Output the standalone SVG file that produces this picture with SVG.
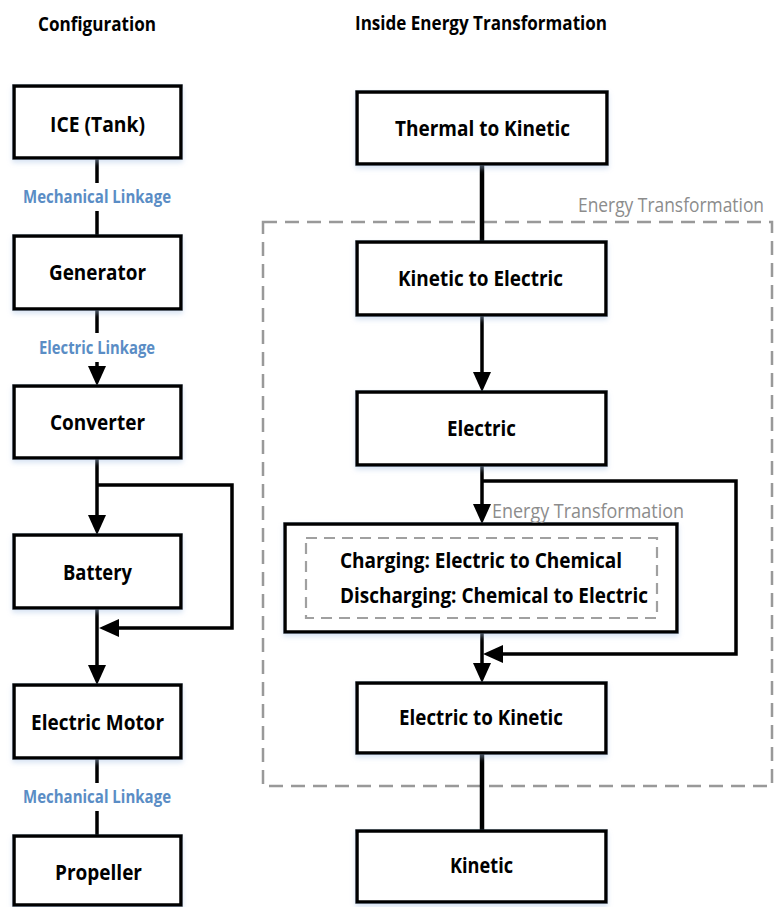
<svg xmlns="http://www.w3.org/2000/svg" width="774" height="907" viewBox="0 0 774 907">
  <style>
    .box { fill: #ffffff; stroke: #000000; stroke-width: 3.5; filter: url(#soft); }
    .lbl { font-family: "Open Sans", "Liberation Sans", sans-serif; font-weight: bold; font-size: 22px; fill: #000000; }
    .title { font-family: "Open Sans", "Liberation Sans", sans-serif; font-weight: bold; font-size: 19px; fill: #000000; }
    .link { font-family: "Open Sans", "Liberation Sans", sans-serif; font-weight: bold; font-size: 17px; fill: #5a8dc5; }
    .grey { font-family: "Open Sans", "Liberation Sans", sans-serif; font-size: 20px; fill: #8c8c8c; }
    .wire { fill: none; stroke: #000000; stroke-width: 3.5; }
    .thick { fill: none; stroke: #000000; stroke-width: 4.5; }
    .arrow { marker-end: url(#head); }
    .zone { fill: none; stroke: #999999; stroke-width: 2.5; stroke-dasharray: 14 8; }
    .subzone { fill: none; stroke: #a0a0a0; stroke-width: 2.2; stroke-dasharray: 11 7; }
  </style>
  <defs>
    <filter id="soft" x="-10%" y="-20%" width="120%" height="150%">
      <feGaussianBlur in="SourceAlpha" stdDeviation="2.5" result="b"/>
      <feOffset in="b" dy="3" result="o"/>
      <feFlood flood-color="#a9c3e6" flood-opacity="0.45"/>
      <feComposite in2="o" operator="in" result="s"/>
      <feMerge><feMergeNode in="s"/><feMergeNode in="SourceGraphic"/></feMerge>
    </filter>
    <marker id="head" markerUnits="userSpaceOnUse" markerWidth="20" markerHeight="18" refX="14" refY="9" orient="auto">
      <path d="M0,0 L20,9 L0,18 z" fill="#000000"/>
    </marker>
  </defs>

  <!-- column headings -->
  <text class="title" x="38" y="31" textLength="118" lengthAdjust="spacingAndGlyphs">Configuration</text>
  <text class="title" x="355" y="30" textLength="252" lengthAdjust="spacingAndGlyphs">Inside Energy Transformation</text>

  <!-- energy transformation zone -->
  <g id="zone-energy">
    <rect class="zone" x="263" y="222" width="509" height="564"/>
    <text class="grey" x="578" y="212" textLength="186" lengthAdjust="spacingAndGlyphs">Energy Transformation</text>
  </g>

  <!-- connectors -->
  <g id="connectors">
    <!-- configuration column -->
    <path class="wire" d="M97,158 V183 M97,211 V236"/>
    <path class="wire" d="M97,309 V333"/>
    <path class="wire arrow" d="M97,362 V380"/>
    <path class="wire arrow" d="M97,458 V529"/>
    <path class="wire arrow" d="M97,485 H232 V628 H105"/>
    <path class="wire arrow" d="M97,608 V679"/>
    <path class="wire" d="M97,758 V783 M97,811 V836"/>
    <!-- energy column -->
    <path class="thick" d="M482,164 V242"/>
    <path class="wire arrow" d="M482,315 V386"/>
    <path class="wire arrow" d="M482,465 V518"/>
    <path class="wire arrow" d="M482,481 H736 V654 H489"/>
    <path class="wire arrow" d="M482,632 V677"/>
    <path class="thick" d="M482,753 V831"/>
  </g>

  <!-- link labels -->
  <g id="link-labels">
    <text class="link" x="23" y="203" textLength="148" lengthAdjust="spacingAndGlyphs">Mechanical Linkage</text>
    <text class="link" x="39" y="354" textLength="116" lengthAdjust="spacingAndGlyphs">Electric Linkage</text>
    <text class="link" x="23" y="803" textLength="148" lengthAdjust="spacingAndGlyphs">Mechanical Linkage</text>
  </g>

  <!-- configuration nodes -->
  <g id="ice">
    <rect class="box" x="14" y="86" width="167" height="72"/>
    <text class="lbl" x="50" y="132" textLength="95" lengthAdjust="spacingAndGlyphs">ICE (Tank)</text>
  </g>
  <g id="generator">
    <rect class="box" x="14" y="236" width="167" height="73"/>
    <text class="lbl" x="49" y="280" textLength="97" lengthAdjust="spacingAndGlyphs">Generator</text>
  </g>
  <g id="converter">
    <rect class="box" x="14" y="386" width="167" height="72"/>
    <text class="lbl" x="50" y="430" textLength="95" lengthAdjust="spacingAndGlyphs">Converter</text>
  </g>
  <g id="battery">
    <rect class="box" x="14" y="535" width="167" height="73"/>
    <text class="lbl" x="63" y="580" textLength="69" lengthAdjust="spacingAndGlyphs">Battery</text>
  </g>
  <g id="electric-motor">
    <rect class="box" x="14" y="685" width="167" height="73"/>
    <text class="lbl" x="31" y="730" textLength="133" lengthAdjust="spacingAndGlyphs">Electric Motor</text>
  </g>
  <g id="propeller">
    <rect class="box" x="14" y="836" width="167" height="69"/>
    <text class="lbl" x="55" y="880" textLength="87" lengthAdjust="spacingAndGlyphs">Propeller</text>
  </g>

  <!-- energy nodes -->
  <g id="thermal-to-kinetic">
    <rect class="box" x="357" y="92" width="250" height="72"/>
    <text class="lbl" x="395" y="136" textLength="175" lengthAdjust="spacingAndGlyphs">Thermal to Kinetic</text>
  </g>
  <g id="kinetic-to-electric">
    <rect class="box" x="357" y="242" width="249" height="73"/>
    <text class="lbl" x="398" y="286" textLength="165" lengthAdjust="spacingAndGlyphs">Kinetic to Electric</text>
  </g>
  <g id="electric">
    <rect class="box" x="357" y="392" width="249" height="73"/>
    <text class="lbl" x="447" y="436" textLength="69" lengthAdjust="spacingAndGlyphs">Electric</text>
  </g>
  <g id="storage">
    <rect class="box" x="285" y="524" width="392" height="108"/>
    <rect class="subzone" x="306" y="538" width="351" height="80"/>
    <text class="lbl" x="340" y="568" textLength="282" lengthAdjust="spacingAndGlyphs">Charging: Electric to Chemical</text>
    <text class="lbl" x="340" y="603" textLength="308" lengthAdjust="spacingAndGlyphs">Discharging: Chemical to Electric</text>
    <text class="grey" x="492" y="518" textLength="192" lengthAdjust="spacingAndGlyphs">Energy Transformation</text>
  </g>
  <g id="electric-to-kinetic">
    <rect class="box" x="357" y="683" width="249" height="70"/>
    <text class="lbl" x="399" y="725" textLength="164" lengthAdjust="spacingAndGlyphs">Electric to Kinetic</text>
  </g>
  <g id="kinetic">
    <rect class="box" x="357" y="831" width="249" height="71"/>
    <text class="lbl" x="450" y="873" textLength="63" lengthAdjust="spacingAndGlyphs">Kinetic</text>
  </g>
</svg>
